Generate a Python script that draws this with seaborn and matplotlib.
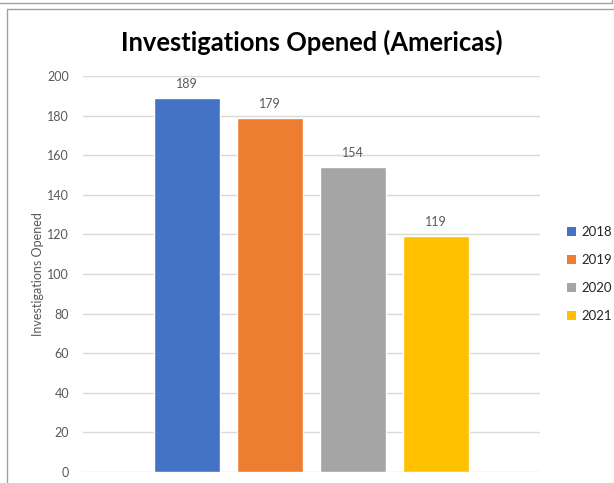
import matplotlib
matplotlib.use("Agg")
import matplotlib.pyplot as plt
import seaborn as sns
import pandas as pd
from matplotlib.patches import Patch
from matplotlib.lines import Line2D

# data
years = ["2018", "2019", "2020", "2021"]
counts = [189, 179, 154, 119]
colors = ["#4472C4", "#ED7D31", "#A5A5A5", "#FFC000"]

df = pd.DataFrame({"Year": years, "Count": counts})

sns.set_style("white")
plt.rcParams["font.family"] = ["Lato", "DejaVu Sans"]

fig = plt.figure(figsize=(6.14, 4.83), dpi=100)
ax = fig.add_axes([83 / 614, 1 - 472 / 483, 457 / 614, 396 / 483])

sns.barplot(data=df, x="Year", y="Count", hue="Year", palette=colors,
            width=0.79, dodge=False, legend=False, saturation=1, ax=ax)

# labels on top of the bars
for i, v in enumerate(counts):
    ax.text(i, v + 4, str(v), ha="center", va="bottom", fontsize=9, color="#595959")

ax.set_ylim(0, 200)
ax.set_xlim(-1.25, 4.25)
ax.set_yticks(range(0, 201, 20))
ax.tick_params(axis="y", length=0, labelsize=9, labelcolor="#595959", pad=10)
ax.set_xticks([])
ax.set_xlabel("")
ax.set_ylabel("Investigations Opened", fontsize=9, color="#595959", labelpad=2)
ax.yaxis.grid(True, color="#D9D9D9", linewidth=1)
ax.set_axisbelow(True)
for s in ax.spines.values():
    s.set_visible(False)

fig.text(312 / 614, 1 - 42 / 483, "Investigations Opened (Americas)",
         ha="center", va="center", fontsize=18.4, fontweight="bold", color="black")

handles = [Patch(facecolor=c, edgecolor="none") for c in colors]
leg = fig.legend(handles, years, loc="center left", bbox_to_anchor=(555 / 614, 1 - 274 / 483),
                 frameon=False, fontsize=9.5, handlelength=0.7, handleheight=0.7,
                 labelspacing=1.2, handletextpad=0.4)
for t in leg.get_texts():
    t.set_color("#262626")

# outer frame lines from the screenshot
fig.add_artist(Line2D([0, 612 / 614], [1 - 3 / 483, 1 - 3 / 483], color="#A0A0A0", lw=1))
fig.add_artist(Line2D([612 / 614, 612 / 614], [1, 1 - 3 / 483], color="#A0A0A0", lw=1))
fig.add_artist(Line2D([7 / 614, 1], [1 - 9 / 483, 1 - 9 / 483], color="#A0A0A0", lw=1))
fig.add_artist(Line2D([7 / 614, 7 / 614], [0, 1 - 9 / 483], color="#A0A0A0", lw=1))

fig.savefig("out.png", dpi=100)
